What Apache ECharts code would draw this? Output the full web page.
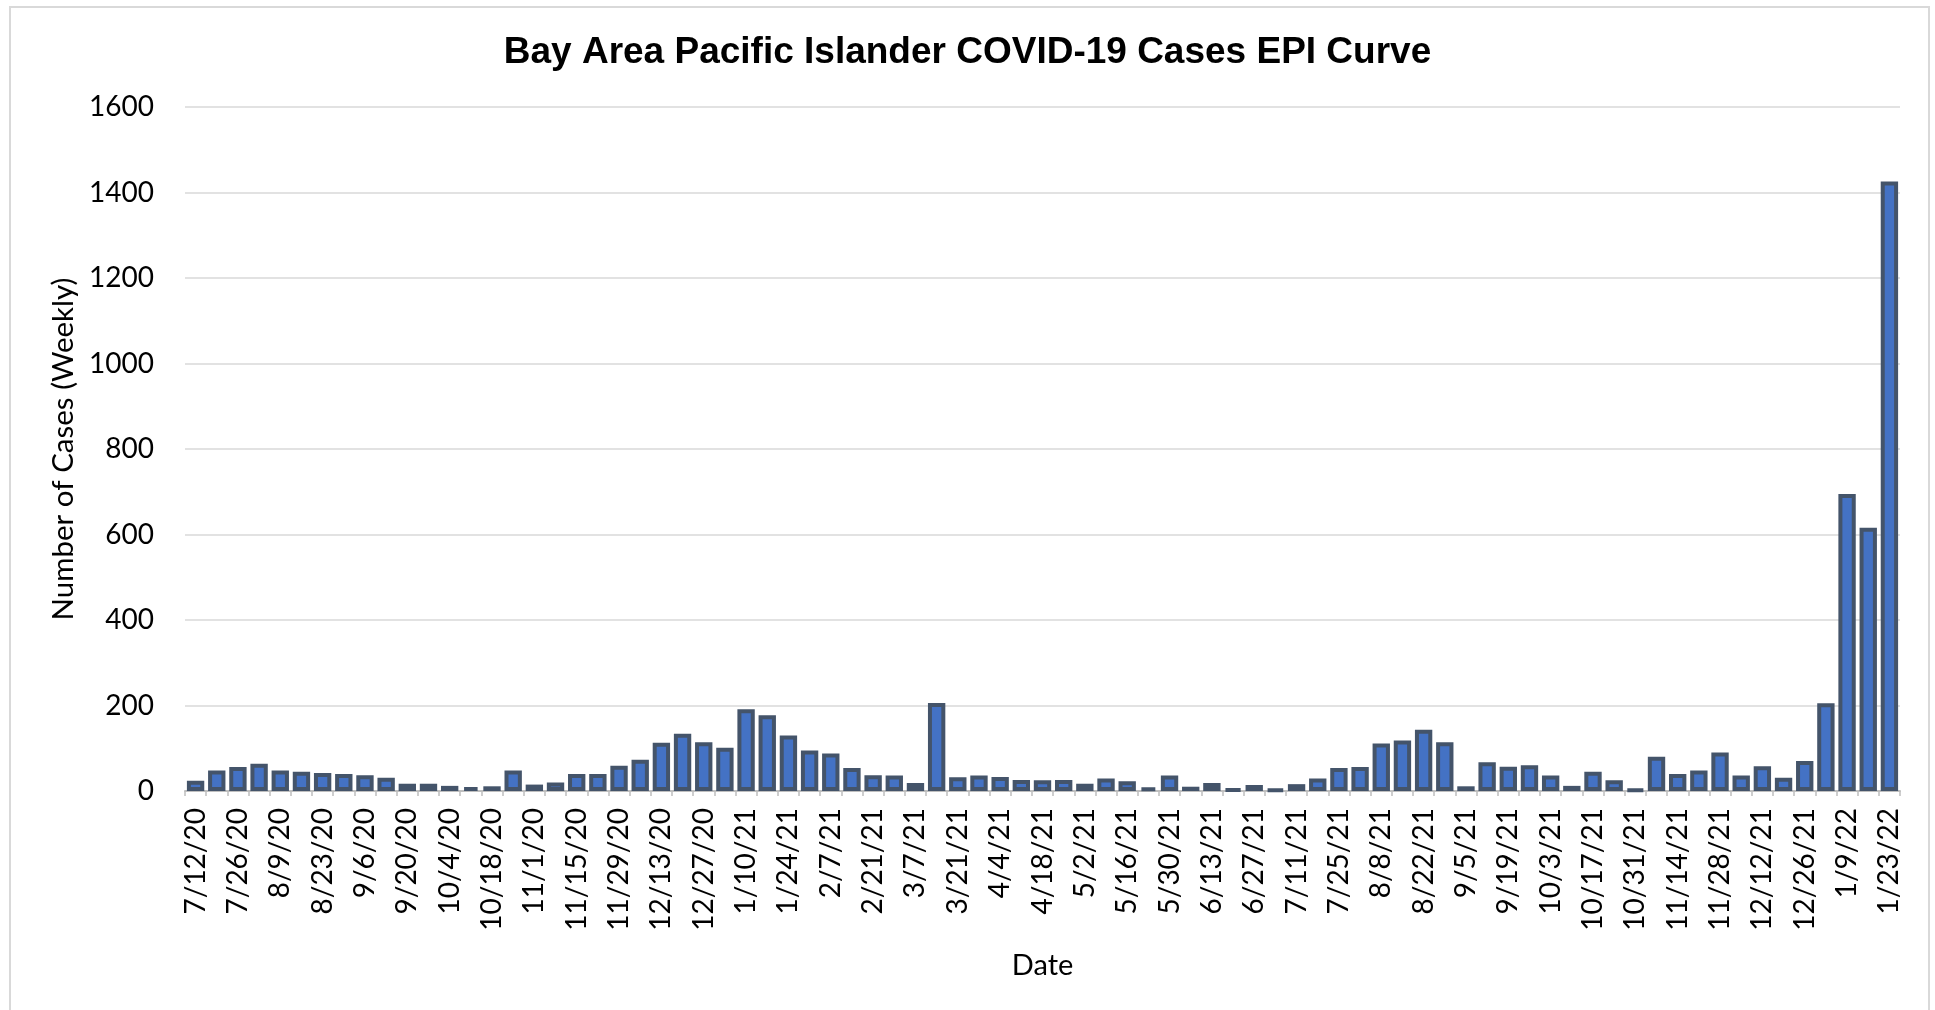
<!DOCTYPE html>
<html>
<head>
<meta charset="utf-8">
<script src="https://cdn.jsdelivr.net/npm/echarts@6/dist/echarts.min.js"></script>
<style>
html,body{margin:0;padding:0;background:#fff;}
#chart{width:1935px;height:1010px;}
</style>
</head>
<body>
<div id="chart"></div>
<script>
const titleText = 'Bay Area Pacific Islander COVID-19 Cases EPI Curve';
const yAxisName = 'Number of Cases (Weekly)';
const xAxisName = 'Date';

const weeks = [
  '7/12/20','7/19/20','7/26/20','8/2/20','8/9/20','8/16/20','8/23/20','8/30/20','9/6/20','9/13/20',
  '9/20/20','9/27/20','10/4/20','10/11/20','10/18/20','10/25/20','11/1/20','11/8/20','11/15/20','11/22/20',
  '11/29/20','12/6/20','12/13/20','12/20/20','12/27/20','1/3/21','1/10/21','1/17/21','1/24/21','1/31/21',
  '2/7/21','2/14/21','2/21/21','2/28/21','3/7/21','3/14/21','3/21/21','3/28/21','4/4/21','4/11/21',
  '4/18/21','4/25/21','5/2/21','5/9/21','5/16/21','5/23/21','5/30/21','6/6/21','6/13/21','6/20/21',
  '6/27/21','7/4/21','7/11/21','7/18/21','7/25/21','8/1/21','8/8/21','8/15/21','8/22/21','8/29/21',
  '9/5/21','9/12/21','9/19/21','9/26/21','10/3/21','10/10/21','10/17/21','10/24/21','10/31/21','11/7/21',
  '11/14/21','11/21/21','11/28/21','12/5/21','12/12/21','12/19/21','12/26/21','1/2/22','1/9/22','1/16/22',
  '1/23/22'
];

const cases = [
  24, 48, 56, 64, 48, 45, 42, 40, 37, 31,
  17, 17, 12, 9, 11, 48, 15, 20, 40, 40,
  59, 73, 113, 134, 114, 101, 191, 177, 130, 95,
  88, 54, 37, 36, 19, 206, 32, 36, 33, 26,
  25, 26, 17, 29, 23, 8, 36, 10, 19, 5,
  14, 4, 16, 29, 54, 56, 111, 118, 143, 114,
  11, 67, 57, 60, 36, 12, 45, 25, 3, 80,
  40, 48, 90, 36, 58, 31, 70, 205, 695, 616,
  1426
];

const yMin = 0, yMax = 1600, yStep = 200;

const chart = echarts.init(document.getElementById('chart'), null, {renderer: 'canvas'});
const labelFont = 'Lato, "Open Sans", sans-serif';

chart.setOption({
  animation: false,
  backgroundColor: '#ffffff',
  title: {
    text: titleText,
    left: 'center',
    top: 29,
    textStyle: {
      fontFamily: '"Liberation Sans", Arial, sans-serif',
      fontWeight: 'bold',
      fontSize: 37,
      color: '#000000'
    }
  },
  graphic: [{
    type: 'rect',
    shape: {x: 10, y: 7, width: 1919, height: 1010},
    style: {fill: 'none', stroke: '#d9d9d9', lineWidth: 2},
    silent: true,
    z: -1
  }],
  grid: {left: 185, right: 35, top: 107, bottom: 219, containLabel: false},
  xAxis: {
    type: 'category',
    data: weeks,
    name: xAxisName,
    nameLocation: 'middle',
    nameGap: 160,
    nameTextStyle: {fontFamily: labelFont, fontSize: 29, color: '#000000'},
    axisLine: {show: true, lineStyle: {color: '#bfbfbf', width: 2}},
    axisTick: {show: true, interval: 0, length: 5, alignWithLabel: false, lineStyle: {color: '#bfbfbf', width: 1.5}},
    axisLabel: {
      interval: 1,
      rotate: 90,
      margin: 17,
      fontFamily: labelFont,
      fontSize: 28,
      color: '#000000'
    },
    splitLine: {show: false}
  },
  yAxis: {
    type: 'value',
    min: yMin,
    max: yMax,
    interval: yStep,
    name: yAxisName,
    nameLocation: 'middle',
    nameGap: 99,
    nameTextStyle: {fontFamily: labelFont, fontSize: 29.5, color: '#000000'},
    axisLine: {show: false},
    axisTick: {show: false},
    axisLabel: {margin: 31, fontFamily: labelFont, fontSize: 28, color: '#000000', formatter: (v) => String(v)},
    splitLine: {show: true, lineStyle: {color: '#d9d9d9', width: 1.5}}
  },
  series: [{
    type: 'bar',
    data: cases,
    barWidth: '82%',
    itemStyle: {color: '#4472C4', borderColor: '#44546A', borderWidth: 4}
  }]
});
</script>
</body>
</html>
